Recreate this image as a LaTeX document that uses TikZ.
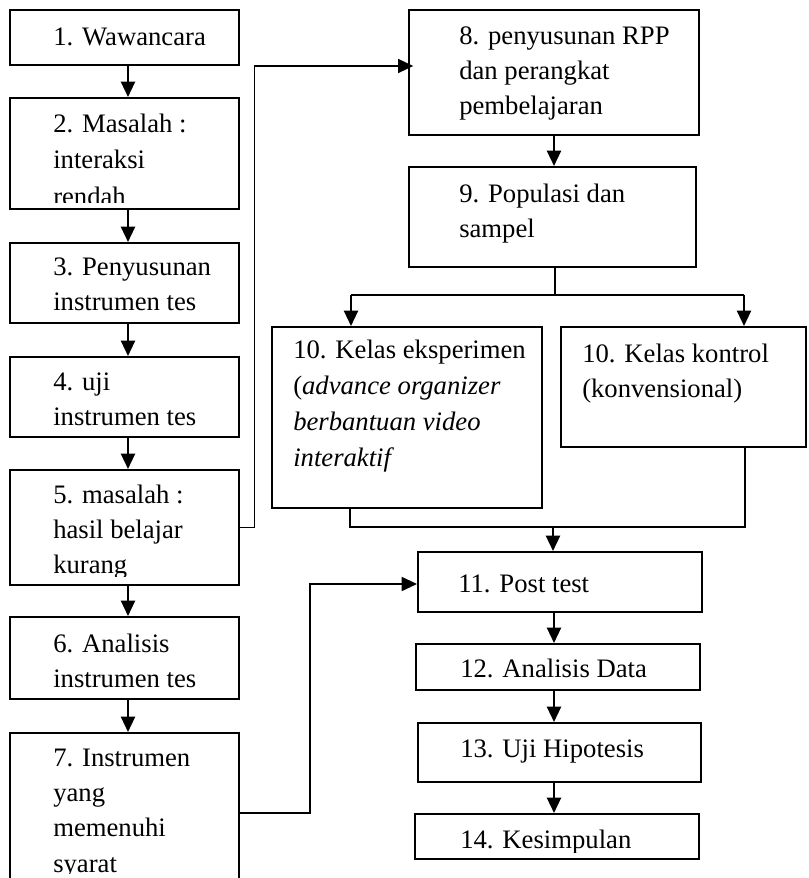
\documentclass[tikz,border=0pt]{standalone}
\usepackage{fontspec}
\setmainfont{Liberation Serif}
\usetikzlibrary{arrows.meta,fit}
\newcommand\Lrow[1]{\hbox{#1}}
\newcommand\Tlines[2][26.6pt]{\vtop{\baselineskip=#1\relax #2}}
\begin{document}
\begin{tikzpicture}[x=0.75pt,y=-0.75pt,
  bx/.style={draw,line width=1.5pt,inner sep=0pt,rectangle},
  tx/.style={anchor=base west,inner sep=0pt,font=\fontsize{20pt}{26.6pt}\selectfont},
  tip/.style={-{Triangle[length=11.5pt,width=10.5pt]}},
  arr/.style={line width=1.7pt,tip},
  ln/.style={line width=1.3pt}]
\useasboundingbox (0,0) rectangle (808,878);
\clip (0,0) rectangle (808,878);

% boxes
\node[bx,fit={(10,10) (239,65)}]   (b1) {};
\node[bx,fit={(10,98) (239,209)}]  (b2) {};
\node[bx,fit={(10,243) (239,323)}] (b3) {};
\node[bx,fit={(10,357) (239,437)}] (b4) {};
\node[bx,fit={(10,470) (239,585)}] (b5) {};
\node[bx,fit={(10,617) (239,699)}] (b6) {};
\node[bx,fit={(10,733) (239,880)}] (b7) {};
\node[bx,fit={(409,10) (699,135)}] (b8) {};
\node[bx,fit={(409,167) (696,267)}] (b9) {};
\node[bx,fit={(272,327) (542,508)}] (b10a) {};
\node[bx,fit={(561,327) (806,447)}] (b10b) {};
\node[bx,fit={(418,552) (702,612)}] (b11) {};
\node[bx,fit={(416,644) (700,690)}] (b12) {};
\node[bx,fit={(418,723) (701,782)}] (b13) {};
\node[bx,fit={(415,814) (699,859)}] (b14) {};

% texts
\node[tx] (t1) at (53,45) {1. Wawancara};
\begin{scope}
\clip ([shift={(1pt,-1pt)}]b2.north west) rectangle ([shift={(-1pt,6pt)}]b2.south east);
\node[tx] (t2) at (53,132) {\Tlines[27.7pt]{\Lrow{2. Masalah :}\Lrow{interaksi}\Lrow{rendah}}};
\end{scope}
\node[tx] (t3) at (53,275) {\Tlines{\Lrow{3. Penyusunan}\Lrow{instrumen tes}}};
\node[tx] (t4) at (53,390) {\Tlines{\Lrow{4. uji}\Lrow{instrumen tes}}};
\begin{scope}
\clip ([shift={(1pt,-1pt)}]b5.north west) rectangle ([shift={(-1pt,7.5pt)}]b5.south east);
\node[tx] (t5) at (53,503) {\Tlines{\Lrow{5. masalah :}\Lrow{hasil belajar}\Lrow{kurang}}};
\end{scope}
\node[tx] (t6) at (53,652) {\Tlines{\Lrow{6. Analisis}\Lrow{instrumen tes}}};
\begin{scope}
\clip ([shift={(1pt,-1pt)}]b7.north west) rectangle ([shift={(-1pt,6pt)}]b7.south east);
\node[tx] (t7) at (53,766) {\Tlines{\Lrow{7. Instrumen}\Lrow{yang}\Lrow{memenuhi}\Lrow{syarat}}};
\end{scope}
\node[tx] (t8) at (459,44) {\Tlines{\Lrow{8. penyusunan RPP}\Lrow{dan perangkat}\Lrow{pembelajaran}}};
\node[tx] (t9) at (459,202) {\Tlines{\Lrow{9. Populasi dan}\Lrow{sampel}}};
\node[tx] (t10a) at (293,358) {\Tlines[27pt]{\Lrow{10. Kelas eksperimen}\Lrow{(\textit{advance organizer}}\Lrow{\textit{berbantuan video}}\Lrow{\textit{interaktif}}}};
\node[tx] (t10b) at (582,362) {\Tlines{\Lrow{10. Kelas kontrol}\Lrow{(konvensional)}}};
\node[tx] (t11) at (458,592) {11. Post test};
\node[tx] (t12) at (460,677) {12. Analisis Data};
\node[tx] (t13) at (460,757) {13. Uji Hipotesis};
\begin{scope}
\clip ([shift={(1pt,-1pt)}]b14.north west) rectangle ([shift={(-1pt,6pt)}]b14.south east);
\node[tx] (t14) at (460,848) {14. Kesimpulan};
\end{scope}

% left column arrows
\coordinate (cl) at (128,0);
\draw[arr] (b1.south -| cl) -- (b2.north -| cl);
\draw[arr] (b2.south -| cl) -- (b3.north -| cl);
\draw[arr] (b3.south -| cl) -- (b4.north -| cl);
\draw[arr] (b4.south -| cl) -- (b5.north -| cl);
\draw[arr] (b5.south -| cl) -- (b6.north -| cl);
\draw[arr] (b6.south -| cl) -- (b7.north -| cl);

% cross connectors
\coordinate (k1) at (254.5,66);
\draw[ln,tip,shorten >=-4pt] (b5.east) -| (k1) -- (k1 -| b8.west);
\coordinate (k2) at (310,584);
\coordinate (k3) at (310,813);
\draw[ln,tip] (b7.east |- k3) -| (k2) -- (k2 -| b11.west);

% right column
\coordinate (cr) at (554,0);
\draw[arr] (b8.south -| cr) -- (b9.north -| cr);
\coordinate (br) at (555,295);
\coordinate (bl) at (351,295);
\coordinate (bR) at (744,295);
\draw[ln] (b9.south -| br) -- (br);
\draw[ln] (bl) -- (bR);
\draw[arr] (bl) -- (b10a.north -| bl);
\draw[arr] (bR) -- (b10b.north -| bR);
\coordinate (jl) at (350,527);
\coordinate (jr) at (745,527);
\coordinate (jm) at (553,527);
\draw[ln] (b10a.south -| jl) -- (jl) -- (jr) -- (b10b.south -| jr);
\draw[arr] (jm) -- (b11.north -| jm);
\draw[arr] (b11.south -| cr) -- (b12.north -| cr);
\draw[arr] (b12.south -| cr) -- (b13.north -| cr);
\draw[arr] (b13.south -| cr) -- (b14.north -| cr);
\end{tikzpicture}
\end{document}
